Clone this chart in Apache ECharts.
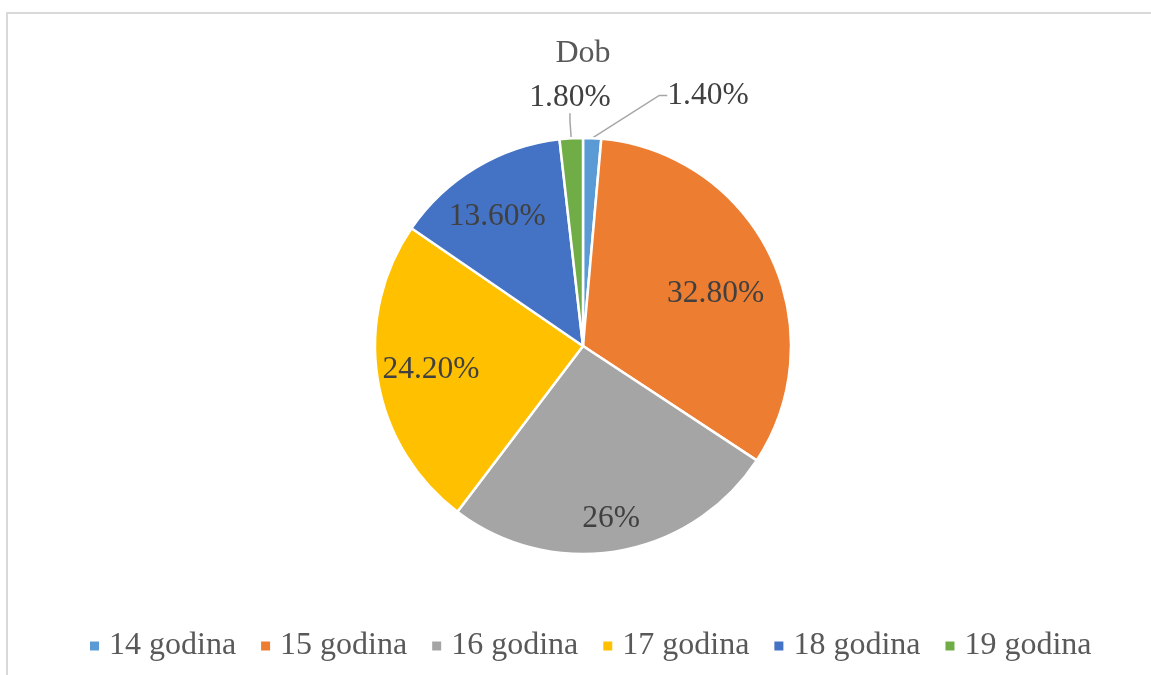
<!DOCTYPE html>
<html>
<head>
<meta charset="utf-8">
<script src="https://cdn.jsdelivr.net/npm/echarts@6/dist/echarts.min.js"></script>
<style>
  html, body { margin: 0; padding: 0; background: #ffffff; }
  #frame { position: absolute; left: 6px; top: 12px; width: 1200px; height: 700px;
           border-left: 2px solid #d9d9d9; border-top: 2px solid #d9d9d9; box-sizing: border-box; }
  #chart { position: absolute; left: 0; top: 0; width: 1151px; height: 675px; }
</style>
</head>
<body>
<div id="frame"></div>
<div id="chart"></div>
<script>
// ---- data ----
const title = 'Dob';
const categories = ['14 godina', '15 godina', '16 godina', '17 godina', '18 godina', '19 godina'];
const values = [1.4, 32.8, 26, 24.2, 13.6, 1.8];
const labels = ['1.40%', '32.80%', '26%', '24.20%', '13.60%', '1.80%'];

// ---- style ----
const colors = ['#5b9bd5', '#ed7d31', '#a5a5a5', '#ffc000', '#4472c4', '#70ad47'];
const FONT = '"Liberation Serif", "Times New Roman", serif';
const CX = 583, CY = 346, R = 208;
// label placement: inside labels as fraction of radius along mid-angle (+ angle tweak),
// outside labels as [distance, angleDeg from top, clockwise]
const labelPlace = [
  { out: [280, 26.5] },
  { f: 0.685, da: 4.4 },
  { f: 0.84, da: 0.5 },
  { f: 0.74, da: 0.3 },
  { f: 0.745, da: -2.6 },
  { out: [249, -3] }
];

const total = values.reduce((a, b) => a + b, 0);
const midAngles = [];
{
  let acc = 0;
  values.forEach(v => { midAngles.push((acc + v / 2) / total * 360); acc += v; });
}

const chart = echarts.init(document.getElementById('chart'), null, { renderer: 'canvas' });
chart.setOption({
  animation: false,
  color: colors,
  title: {
    text: title,
    left: CX - 5,
    textAlign: 'center',
    top: 33,
    textStyle: { fontFamily: FONT, fontSize: 32, fontWeight: 'normal', color: '#595959' }
  },
  legend: {
    bottom: 8,
    left: 83,
    icon: 'rect',
    itemWidth: 11,
    itemHeight: 11,
    itemGap: 23,
    textStyle: { fontFamily: FONT, fontSize: 32, color: '#595959', padding: [0, 0, 0, 4] },
    data: categories
  },
  series: [{
    type: 'pie',
    center: [CX, CY],
    radius: [0, R],
    startAngle: 90,
    clockwise: true,
    avoidLabelOverlap: false,
    itemStyle: { borderColor: '#ffffff', borderWidth: 2.5 },
    label: {
      show: true,
      position: 'inside',
      formatter: p => labels[p.dataIndex],
      fontFamily: FONT,
      fontSize: 31.5,
      color: '#404040'
    },
    labelLine: { show: false },
    labelLayout: function (params) {
      const i = params.dataIndex;
      const pl = labelPlace[i];
      let d, a;
      if (pl.out) { d = pl.out[0]; a = pl.out[1]; }
      else { d = pl.f * R; a = midAngles[i] + pl.da; }
      const rad = a * Math.PI / 180;
      return {
        x: CX + d * Math.sin(rad),
        y: CY - d * Math.cos(rad),
        align: 'center',
        verticalAlign: 'middle'
      };
    },
    data: categories.map((c, i) => {
      const item = { name: c, value: values[i] };
      if (labelPlace[i].out) {
        item.label = { position: 'outside' };
        item.labelLine = { show: true, length: 18, length2: 8, lineStyle: { color: '#a6a6a6', width: 1.5 } };
      }
      return item;
    })
  }]
});
</script>
</body>
</html>
